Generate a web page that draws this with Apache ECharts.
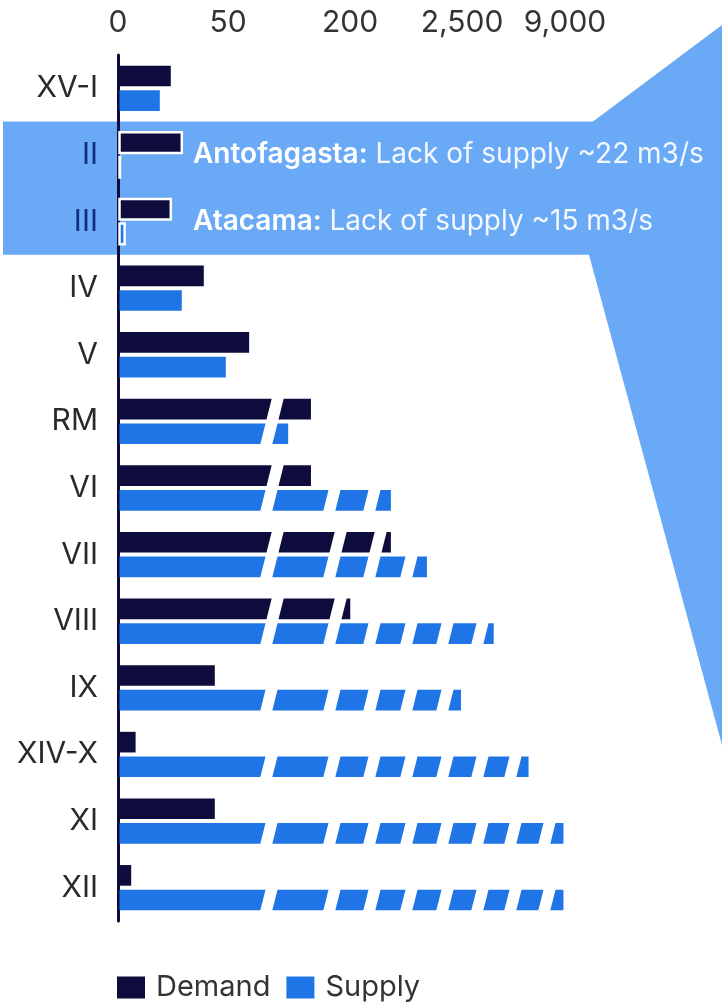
<!DOCTYPE html>
<html>
<head>
<meta charset="utf-8">
<script src="https://cdn.jsdelivr.net/npm/echarts@6/dist/echarts.min.js"></script>
<style>
html, body { margin: 0; padding: 0; background: #fff; }
#main { width: 722px; height: 1005px; }
</style>
</head>
<body>
<div id="main"></div>
<script>
// regions, top to bottom
const regions = ['XV-I', 'II', 'III', 'IV', 'V', 'RM', 'VI', 'VII', 'VIII', 'IX', 'XIV-X', 'XI', 'XII'];
// m3/s
const demand = [24, 29, 24, 39, 76, 152, 152, 1040, 205, 44, 8, 44, 6];
const supply = [19, 0.4, 3, 29, 49, 124, 1040, 1780, 4500, 2480, 6700, 8900, 8900];

// uneven axis: tick values and where they sit on the drawn axis
const tickValues = [0, 50, 200, 2500, 9000];
const tickPos = [0, 110, 232, 344, 447];
// slanted cuts through the long bars (drawn-axis units)
const cutPos = [154, 217, 257, 294, 330, 365, 398, 432];

const noteRegions = ['II', 'III'];
const noteTitles = ['Antofagasta:', 'Atacama:'];
const noteTexts = [' Lack of supply ~22 m3/s', ' Lack of supply ~15 m3/s'];

const FONT = 'Inter, "Noto Sans", sans-serif';
const DEMAND_COLOR = '#0e0b3d';
const SUPPLY_COLOR = '#2075e6';
const BAND_COLOR = '#6aa9f6';

function toAxis(v) {
  for (let i = 0; i < tickValues.length - 1; i++) {
    if (v <= tickValues[i + 1]) {
      const t = (v - tickValues[i]) / (tickValues[i + 1] - tickValues[i]);
      return tickPos[i] + t * (tickPos[i + 1] - tickPos[i]);
    }
  }
  return tickPos[tickPos.length - 1];
}

// keep the part of a polygon left of xmax
function clipRight(pts, xmax) {
  const out = [];
  for (let i = 0; i < pts.length; i++) {
    const a = pts[i], b = pts[(i + 1) % pts.length];
    const ain = a[0] <= xmax, bin = b[0] <= xmax;
    if (ain) out.push(a);
    if (ain !== bin) {
      const t = (xmax - a[0]) / (b[0] - a[0]);
      out.push([xmax, a[1] + t * (b[1] - a[1])]);
    }
  }
  return out;
}

function makeRender(isDemand, color) {
  return function (params, api) {
    const cat = api.value(1);
    const base = api.coord([0, cat]);
    const end = api.coord([api.value(0), cat]);
    const band = api.size([0, 1])[1];
    const yc = base[1];
    const h = band * 0.31;
    const off = band * 0.03;
    const y0 = isDemand ? yc - off - h : yc + off;
    const y1 = y0 + h;
    const x0 = base[0] + 1.5;
    const x1 = end[0];
    const children = [];
    const noteIdx = noteRegions.indexOf(regions[cat]);

    if (noteIdx >= 0) {
      children.push({
        type: 'rect',
        shape: { x: x0, y: y0, width: Math.max(x1 - x0, 0.5), height: h },
        style: { fill: color, stroke: '#fff', lineWidth: 2.5 }
      });
      if (isDemand) {
        children.push({
          type: 'text',
          x: api.coord([75, cat])[0],
          y: yc,
          style: {
            text: '{b|' + noteTitles[noteIdx] + '}{n|' + noteTexts[noteIdx] + '}',
            verticalAlign: 'middle',
            rich: {
              b: { fill: '#fff', fontSize: 28, fontWeight: 600, fontFamily: FONT },
              n: { fill: '#f4f8ff', fontSize: 28, fontWeight: 400, fontFamily: FONT }
            }
          }
        });
      }
      return { type: 'group', children: children };
    }

    const slope = 0.25;
    const w = 12;
    const sTop = slope * (yc - y0);
    const sBot = slope * (yc - y1);
    let left = null; // null = vertical start at x0
    const edges = cutPos.map(function (p) { return api.coord([p, cat])[0]; });
    for (let k = 0; k <= edges.length; k++) {
      const pts = [];
      if (left === null) {
        pts.push([x0, y0]);
      } else {
        pts.push([left + sTop, y0]);
      }
      if (k < edges.length) {
        const r = edges[k] - w / 2;
        pts.push([r + sTop, y0], [r + sBot, y1]);
      } else {
        pts.push([x1 + 50, y0], [x1 + 50, y1]);
      }
      if (left === null) {
        pts.push([x0, y1]);
      } else {
        pts.push([left + sBot, y1]);
      }
      const leftMin = Math.min(pts[0][0], pts[3][0]);
      if (leftMin >= x1) break;
      const clipped = clipRight(pts, x1);
      if (clipped.length >= 3) {
        children.push({ type: 'polygon', shape: { points: clipped }, style: { fill: color } });
      }
      if (k < edges.length) left = edges[k] + w / 2;
    }
    return { type: 'group', children: children };
  };
}

const chart = echarts.init(document.getElementById('main'));
chart.setOption({
  animation: false,
  backgroundColor: '#fff',
  grid: { left: 118, right: 154, top: 55, bottom: 84 },
  legend: {
    data: ['Demand', 'Supply'],
    left: 112,
    top: 968,
    icon: 'rect',
    itemWidth: 28,
    itemHeight: 22,
    itemGap: 16,
    textStyle: { fontSize: 29, color: '#333', fontFamily: FONT, padding: [0, 0, 0, 6] }
  },
  xAxis: {
    type: 'value',
    position: 'top',
    min: 0,
    max: 450,
    axisLine: { show: false },
    axisTick: { show: false },
    splitLine: { show: false },
    axisLabel: {
      customValues: tickPos,
      formatter: function (v) {
        const i = tickPos.indexOf(v);
        return i >= 0 ? tickValues[i].toLocaleString('en-US') : '';
      },
      fontSize: 30,
      color: '#333',
      fontFamily: FONT,
      margin: 17
    }
  },
  yAxis: {
    type: 'category',
    data: regions,
    inverse: true,
    axisLine: { lineStyle: { color: DEMAND_COLOR, width: 3 } },
    axisTick: { show: false },
    axisLabel: {
      margin: 20,
      formatter: function (v) {
        return noteRegions.indexOf(v) >= 0 ? '{h|' + v + '}' : '{n|' + v + '}';
      },
      rich: {
        n: { fontSize: 30, color: '#2a2a2a', fontFamily: FONT },
        h: { fontSize: 30, color: '#12307e', fontFamily: FONT }
      }
    }
  },
  series: [
    {
      name: 'Demand',
      type: 'custom',
      itemStyle: { color: DEMAND_COLOR },
      encode: { x: 0, y: 1 },
      renderItem: makeRender(true, DEMAND_COLOR),
      data: demand.map(function (v, i) { return [toAxis(v), i, v]; }),
      z: 3
    },
    {
      name: 'Supply',
      type: 'custom',
      itemStyle: { color: SUPPLY_COLOR },
      encode: { x: 0, y: 1 },
      renderItem: makeRender(false, SUPPLY_COLOR),
      data: supply.map(function (v, i) { return [toAxis(v), i, v]; }),
      z: 3
    }
  ]
});

// highlight band for the regions with a deficit, opening to the right edge
const yA = chart.convertToPixel({ yAxisIndex: 0 }, noteRegions[0]);
const yB = chart.convertToPixel({ yAxisIndex: 0 }, noteRegions[noteRegions.length - 1]);
const half = (yB - yA) / 2;
const bandTop = yA - half;
const bandBot = yB + half;
chart.setOption({
  graphic: [{
    type: 'polygon',
    z: -1,
    silent: true,
    shape: {
      points: [[3, bandTop], [593, bandTop], [722, 25], [722, 745], [589, bandBot], [3, bandBot]]
    },
    style: { fill: BAND_COLOR }
  }]
});
</script>
</body>
</html>
